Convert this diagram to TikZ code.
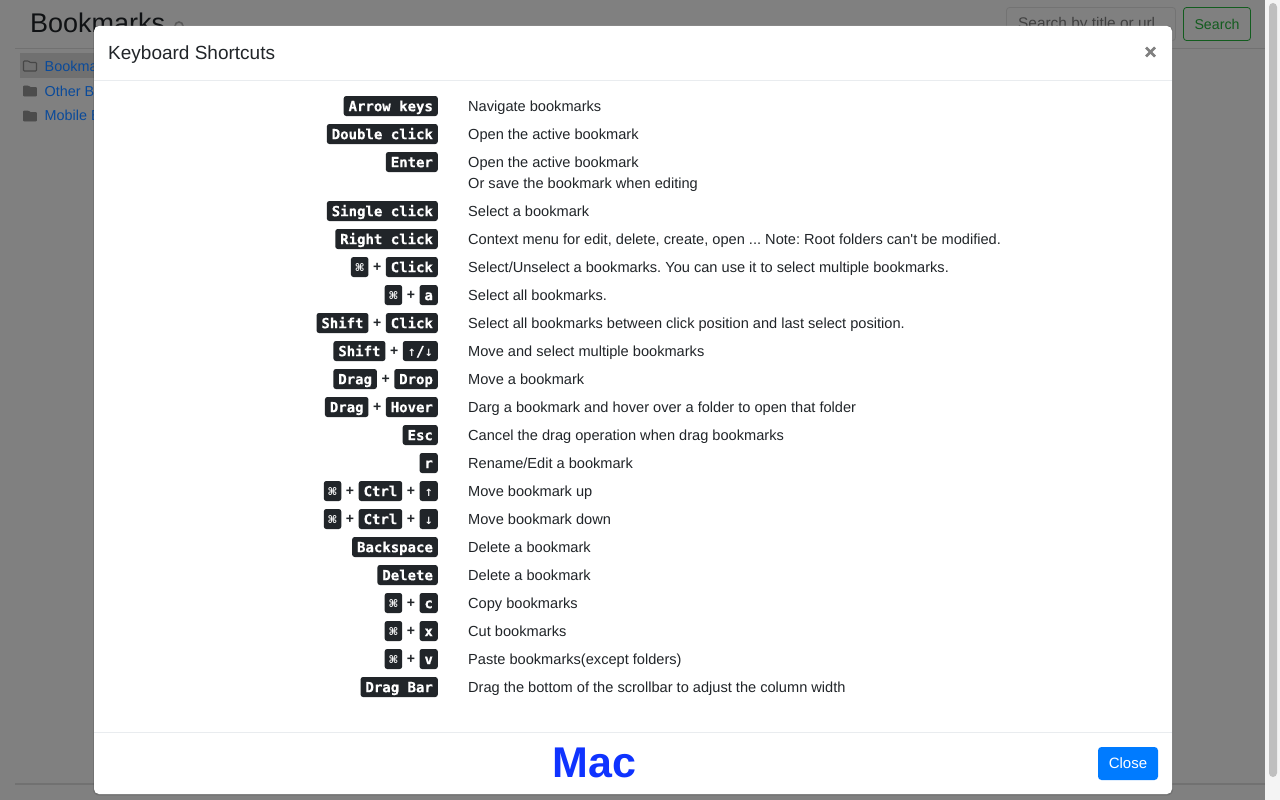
\documentclass[tikz,border=0pt]{standalone}
\usepackage{fontspec}
\setmainfont{Liberation Sans}
\newfontfamily\straightfont{Liberation Sans}
\newfontfamily\kbdfont{DejaVu Sans Mono}[BoldFont={DejaVu Sans Mono Bold},BoldFeatures={FakeBold=0.35}]
\newfontfamily\symfont{DejaVu Sans}[BoldFont={DejaVu Sans Bold}]
\frenchspacing
\definecolor{pagebg}{HTML}{808080}
\definecolor{kbdbg}{HTML}{212529}
\definecolor{rulec}{HTML}{E9ECEF}
\definecolor{dimrule}{HTML}{717171}
\definecolor{dimlink}{HTML}{0A4A9A}
\definecolor{macblue}{HTML}{0F33FF}
\definecolor{btnblue}{HTML}{007BFF}
\definecolor{ink}{HTML}{212529}
\definecolor{dimink}{HTML}{101214}
\definecolor{dimgreen}{HTML}{125C1E}
\definecolor{trackc}{HTML}{F4F4F4}
\newcommand{\CMD}{\makebox[7.7pt]{\symfont\fontsize{10.5}{10}\selectfont\raisebox{.5pt}{\char"2318}}}
\newcommand{\UP}{{\symfont\fontsize{10}{10}\selectfont\char"2191}}
\newcommand{\DN}{{\symfont\fontsize{10}{10}\selectfont\char"2193}}
\tikzset{
  kbd/.style={fill=kbdbg,text=white,rounded corners=2.5pt,inner xsep=4.9pt,inner ysep=0pt,
    text height=13.2pt,text depth=2.8pt,minimum height=20pt,font=\kbdfont\bfseries\fontsize{14}{16}\selectfont},
  plus/.style={inner sep=0pt,text width=16.6pt,align=center,text=ink,font=\bfseries\fontsize{14}{16}\selectfont,text height=10pt,text depth=1pt},
  desc/.style={anchor=base west,inner sep=0pt,text=ink,font=\fontsize{14.6}{18}\selectfont},
  bglink/.style={anchor=base west,inner sep=0pt,text=dimlink,font=\fontsize{14.4}{18}\selectfont},
  folder/.style={fill=#1,draw=#1,line width=.8pt,rounded corners=.8pt},
}
\newcommand{\folderpath}[2]{(#1,#2+5) -- (#1,#2-5) -- (#1+5,#2-5) -- (#1+6.5,#2-3.5) -- (#1+13,#2-3.5) -- (#1+13,#2+5) -- cycle}
\begin{document}
\begin{tikzpicture}[x=1pt,y=-1pt]
\useasboundingbox (0,0) rectangle (1280,800);
\fill[pagebg] (0,0) rectangle (1280,800);
% page behind the dialog
\draw[dimrule,line width=1pt] (15,48.5) -- (1265,48.5);
\draw[dimrule,line width=1.6pt] (15,783.7) -- (1265,783.7);
\node[anchor=base west,inner sep=0pt,text=dimink,font=\fontsize{27}{32}\selectfont] (pagetitle) at (30,33) {Bookmarks};
\draw[black!65,line width=1.6pt,fill=none] (179,26) circle (4pt);
\fill[black!56] (20,53) rectangle (94,78);
\draw[black!72,line width=1.1pt,rounded corners=.8pt] \folderpath{23.5}{66};
\path[folder=black!70] \folderpath{23.5}{91};
\path[folder=black!70] \folderpath{23.5}{116};
\node[bglink] (lk1) at (44.5,71) {Bookmarks};
\node[bglink] (lk2) at (44.5,96) {Other Bookmarks};
\node[bglink] (lk3) at (44.5,121) {Mobile Bookmarks};
\draw[black!55,fill=none,rounded corners=3pt,line width=.8pt] (1006.5,7.5) rectangle (1175.5,40.5);
\node[anchor=base west,inner sep=0pt,text=black!75,font=\fontsize{15.4}{18}\selectfont] (searchtxt) at (1018,29) {Search by title or url};
\draw[dimgreen,rounded corners=3pt,line width=.8pt] (1183.5,7.5) rectangle (1250.5,40.5);
\node[inner sep=0pt,text=dimgreen,font=\fontsize{14.2}{18}\selectfont] (searchbtn) at (1217,24) {Search};
% scrollbar
\fill[trackc] (1265,0) rectangle (1280,800);
\fill[black!25,rounded corners=4pt] (1269,3) rectangle (1277,777);
% dialog
\fill[black,opacity=.1,rounded corners=6pt] (93,25.5) rectangle (1173,795.5);
\fill[white,rounded corners=5pt] (94,26) rectangle (1172,794);
\draw[rulec,line width=1pt] (94,80.5) -- (1172,80.5);
\draw[rulec,line width=1pt] (94,732.5) -- (1172,732.5);
\node[anchor=base west,inner sep=0pt,text=ink,font=\fontsize{19}{22}\selectfont] (title) at (108,59.3) {Keyboard Shortcuts};
\draw[black!50,line width=2.6pt] (1146,47.5) coordinate (xa) -- (1155,56.5) coordinate (xb);
\draw[black!50,line width=2.6pt] (1155,47.5) coordinate (xc) -- (1146,56.5) coordinate (xd);
% keys
\node[kbd,anchor=east] (a1) at (438,106) {Arrow keys};
\node[kbd,anchor=east] (a2) at (438,134) {Double click};
\node[kbd,anchor=east] (a3) at (438,162) {Enter};
\node[kbd,anchor=east] (a4) at (438,211) {Single click};
\node[kbd,anchor=east] (a5) at (438,239) {Right click};
\node[kbd,anchor=east] (a6) at (438,267) {Click};
\node[plus,anchor=east] (p6) at (a6.west) {+};
\node[kbd,anchor=east] (b6) at (p6.west) {\CMD};
\node[kbd,anchor=east] (a7) at (438,295) {a};
\node[plus,anchor=east] (p7) at (a7.west) {+};
\node[kbd,anchor=east] (b7) at (p7.west) {\CMD};
\node[kbd,anchor=east] (a8) at (438,323) {Click};
\node[plus,anchor=east] (p8) at (a8.west) {+};
\node[kbd,anchor=east] (b8) at (p8.west) {Shift};
\node[kbd,anchor=east] (a9) at (438,351) {\UP/\DN};
\node[plus,anchor=east] (p9) at (a9.west) {+};
\node[kbd,anchor=east] (b9) at (p9.west) {Shift};
\node[kbd,anchor=east] (a10) at (438,379) {Drop};
\node[plus,anchor=east] (p10) at (a10.west) {+};
\node[kbd,anchor=east] (b10) at (p10.west) {Drag};
\node[kbd,anchor=east] (a11) at (438,407) {Hover};
\node[plus,anchor=east] (p11) at (a11.west) {+};
\node[kbd,anchor=east] (b11) at (p11.west) {Drag};
\node[kbd,anchor=east] (a12) at (438,435) {Esc};
\node[kbd,anchor=east] (a13) at (438,463) {r};
\node[kbd,anchor=east] (a14) at (438,491) {\UP};
\node[plus,anchor=east] (p14) at (a14.west) {+};
\node[kbd,anchor=east] (b14) at (p14.west) {Ctrl};
\node[plus,anchor=east] (q14) at (b14.west) {+};
\node[kbd,anchor=east] (c14) at (q14.west) {\CMD};
\node[kbd,anchor=east] (a15) at (438,519) {\DN};
\node[plus,anchor=east] (p15) at (a15.west) {+};
\node[kbd,anchor=east] (b15) at (p15.west) {Ctrl};
\node[plus,anchor=east] (q15) at (b15.west) {+};
\node[kbd,anchor=east] (c15) at (q15.west) {\CMD};
\node[kbd,anchor=east] (a16) at (438,547) {Backspace};
\node[kbd,anchor=east] (a17) at (438,575) {Delete};
\node[kbd,anchor=east] (a18) at (438,603) {c};
\node[plus,anchor=east] (p18) at (a18.west) {+};
\node[kbd,anchor=east] (b18) at (p18.west) {\CMD};
\node[kbd,anchor=east] (a19) at (438,631) {x};
\node[plus,anchor=east] (p19) at (a19.west) {+};
\node[kbd,anchor=east] (b19) at (p19.west) {\CMD};
\node[kbd,anchor=east] (a20) at (438,659) {v};
\node[plus,anchor=east] (p20) at (a20.west) {+};
\node[kbd,anchor=east] (b20) at (p20.west) {\CMD};
\node[kbd,anchor=east] (a21) at (438,687) {Drag Bar};
% descriptions
\node[desc] (d1) at (468,111) {Navigate bookmarks};
\node[desc] (d2) at (468,139) {Open the active bookmark};
\node[desc] (d3) at (468,167) {Open the active bookmark};
\node[desc] (d3b) at (468,188) {Or save the bookmark when editing};
\node[desc] (d4) at (468,216) {Select a bookmark};
\node[desc] (d5) at (468,244) {Context menu for edit, delete, create, open ... Note: Root folders can{\straightfont\char39}t be modified.};
\node[desc] (d6) at (468,272) {Select/Unselect a bookmarks. You can use it to select multiple bookmarks.};
\node[desc] (d7) at (468,300) {Select all bookmarks.};
\node[desc] (d8) at (468,328) {Select all bookmarks between click position and last select position.};
\node[desc] (d9) at (468,356) {Move and select multiple bookmarks};
\node[desc] (d10) at (468,384) {Move a bookmark};
\node[desc] (d11) at (468,412) {Darg a bookmark and hover over a folder to open that folder};
\node[desc] (d12) at (468,440) {Cancel the drag operation when drag bookmarks};
\node[desc] (d13) at (468,468) {Rename/Edit a bookmark};
\node[desc] (d14) at (468,496) {Move bookmark up};
\node[desc] (d15) at (468,524) {Move bookmark down};
\node[desc] (d16) at (468,552) {Delete a bookmark};
\node[desc] (d17) at (468,580) {Delete a bookmark};
\node[desc] (d18) at (468,608) {Copy bookmarks};
\node[desc] (d19) at (468,636) {Cut bookmarks};
\node[desc] (d20) at (468,664) {Paste bookmarks(except folders)};
\node[desc] (d21) at (468,692) {Drag the bottom of the scrollbar to adjust the column width};
% footer
\node[anchor=base,inner sep=0pt,text=macblue,font=\bfseries\fontsize{43}{45}\selectfont] (mac) at (594.5,777.4) {Mac};
\node[fill=btnblue,text=white,rounded corners=3.5pt,minimum width=60pt,minimum height=33pt,inner sep=0pt,font=\fontsize{15}{18}\selectfont] (close) at (1128,763.5) {Close};
\end{tikzpicture}
\end{document}
